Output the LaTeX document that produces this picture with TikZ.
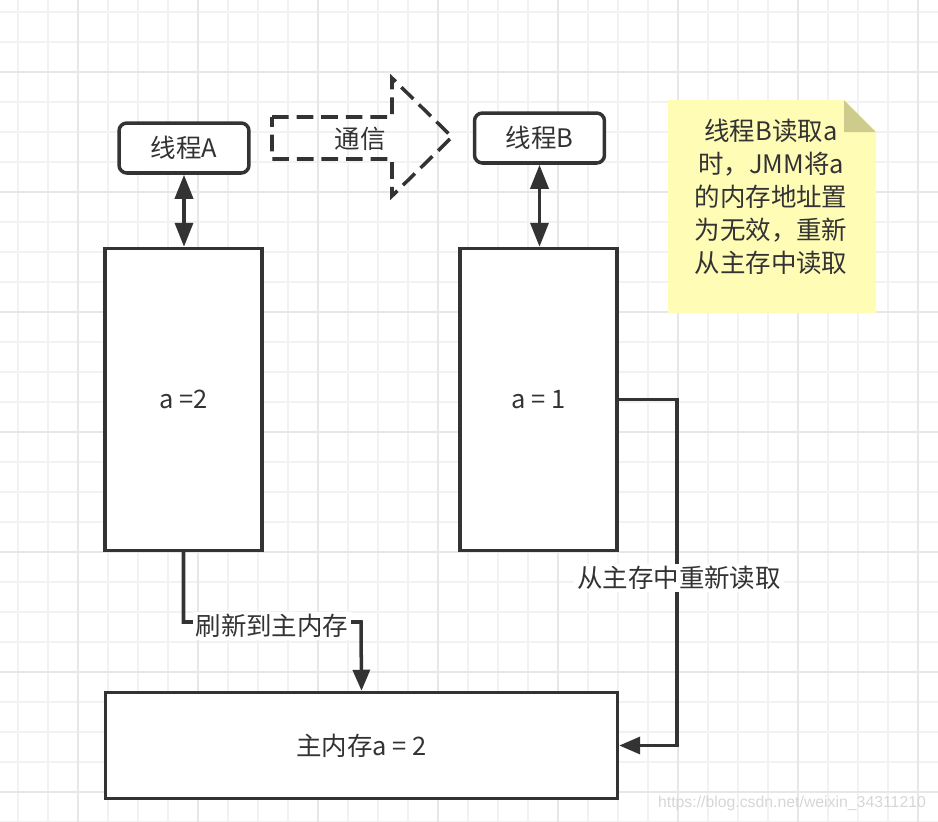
\documentclass[tikz,border=0pt]{standalone}
\usepackage{fontspec}
\setmainfont{Noto Sans CJK SC}
\newfontfamily\wmfont{Liberation Sans}
\usetikzlibrary{arrows.meta}
\definecolor{ink}{RGB}{51,51,51}
\definecolor{gridminor}{RGB}{242,242,242}
\definecolor{gridmajor}{RGB}{231,231,231}
\definecolor{notefill}{RGB}{255,252,182}
\definecolor{notefold}{RGB}{206,204,140}
\definecolor{wmgray}{RGB}{214,214,214}

\begin{document}
\begin{tikzpicture}[x=0.02cm, y=-0.02cm,
        box/.style={draw=ink, line width=2pt, fill=white, inner sep=0pt, text=ink, font=\fontsize{14.5}{17}\selectfont},
        thread/.style={box, rounded corners=4.5pt, minimum width=2.6cm, minimum height=1cm},
        work/.style={box, minimum width=3.14cm, minimum height=6.04cm},
        link/.style={draw=ink, line width=2pt},
        both/.style={link, {Triangle[length=0.48cm,width=0.36cm]}-{Triangle[length=0.48cm,width=0.36cm]}},
        into/.style={link, -{Triangle[length=0.42cm,width=0.34cm]}},
        tag/.style={fill=white, inner sep=1.5pt, text=ink, font=\fontsize{14.5}{17}\selectfont}]

        \useasboundingbox (0,0) rectangle (938,822);

        % grid
        \foreach \gx in {18,48,...,938} \draw[gridminor, line width=0.9pt] (\gx,0) -- (\gx,822);
        \foreach \gy in {12,42,...,822} \draw[gridminor, line width=0.9pt] (0,\gy) -- (938,\gy);
        \foreach \gx in {78,198,...,938} \draw[gridmajor, line width=0.9pt] (\gx,0) -- (\gx,822);
        \foreach \gy in {72,192,...,822} \draw[gridmajor, line width=0.9pt] (0,\gy) -- (938,\gy);

        \node (threadA) [thread] at (184,148) {线程A};
        \node (threadB) [thread] at (539.5,138) {线程B};
        \node (workA) [work] at (183.5,399.5) {a =2};
        \node (workB) [work] at (538.5,399.5) {a = 1};
        \node (mainMem) [box, minimum width=10.24cm, minimum height=2.12cm] at (361.5,745.5) {主内存a = 2};

        \draw[both] (threadA.south) -- (threadA.south |- workA.north);
        \draw[both] (threadB.south) -- (threadB.south |- workB.north);

        % dashed block arrow
        \draw[ink, line width=2pt, dash pattern=on 9.5pt off 4.5pt]
            (272,117) -- (392,117) -- (392,78) -- (452,137) -- (392,196) -- (392,159) -- (272,159) -- cycle;
        \node (talk) [text=ink, font=\fontsize{14.5}{17}\selectfont] at (360,139) {通信};

        \coordinate (bendA) at (361,622);
        \draw[into] (workA.south) |- (bendA) -- (mainMem.north);
        \node (flush) [tag] at (272,626) {刷新到主内存};

        \coordinate (bendB) at (677,578);
        \draw[into] (workB.east) -| (bendB) |- (mainMem.east);
        \node (reload) [tag] at (679,578) {从主存中重新读取};

        % note
        \fill[notefill] (668,100) -- (844,100) -- (876,132) -- (876,313) -- (668,313) -- cycle;
        \fill[notefold] (844,100) -- (876,132) -- (844,132) -- cycle;
        \node (note) [align=center, text=ink, font=\fontsize{14.5}{18.7}\selectfont] at (771,197)
            {线程B读取a\\时，JMM将a\\的内存地址置\\为无效，重新\\从主存中读取};

        \node (mark) [text=wmgray, font=\fontsize{9}{11}\selectfont\wmfont] at (792,803) {https://blog.csdn.net/weixin\_34311210};

    \end{tikzpicture}
\end{document}
